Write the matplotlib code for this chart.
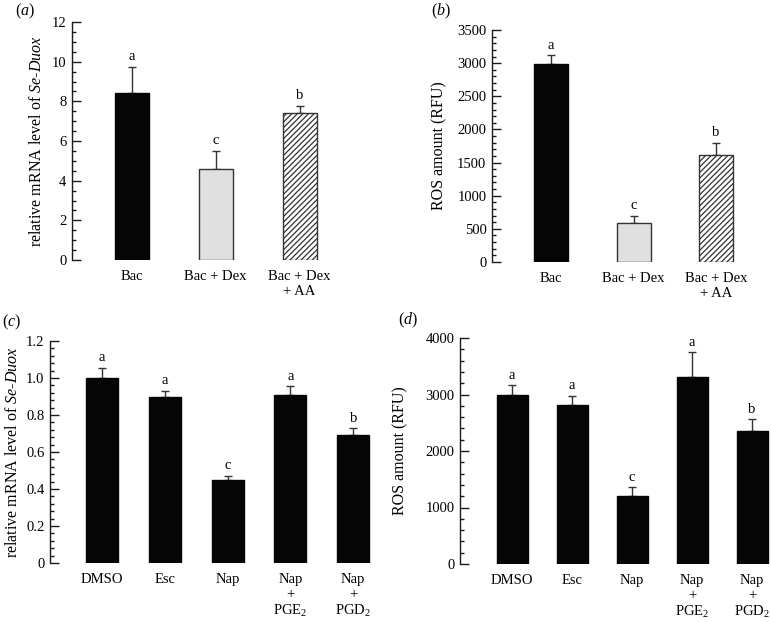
import matplotlib
matplotlib.use("Agg")
import matplotlib.pyplot as plt
from matplotlib.ticker import MultipleLocator, FuncFormatter

plt.rcParams['font.family'] = ['Liberation Serif', 'DejaVu Serif']
plt.rcParams['mathtext.fontset'] = 'custom'
plt.rcParams['mathtext.rm'] = 'Liberation Serif'
plt.rcParams['mathtext.it'] = 'Liberation Serif:italic'
plt.rcParams['mathtext.bf'] = 'Liberation Serif:bold'
plt.rcParams['hatch.linewidth'] = 0.9

# ---- data ----
cats_ab = ['Bac', 'Bac + Dex', 'Bac + Dex\n+ AA']
a_vals = [8.4, 4.57, 7.43]
a_err = [1.35, 0.94, 0.34]
a_letters = ['a', 'c', 'b']

b_vals = [2990, 595, 1610]
b_err = [130, 100, 190]
b_letters = ['a', 'c', 'b']

cats_cd = ['DMSO', 'Esc', 'Nap', 'Nap\n+\nPGE$_2$', 'Nap\n+\nPGD$_2$']
c_vals = [1.0, 0.9, 0.45, 0.91, 0.69]
c_err = [0.055, 0.032, 0.022, 0.045, 0.038]
c_letters = ['a', 'a', 'c', 'a', 'b']

d_vals = [3000, 2820, 1205, 3305, 2360]
d_err = [160, 160, 155, 440, 200]
d_letters = ['a', 'a', 'c', 'a', 'b']

W, H = 771, 622
fig = plt.figure(figsize=(W / 100, H / 100), dpi=100)

FS = 10.5
LFS = 11.5
EDGE = '#1a1a1a'


def make_axes(left, right, top, bottom):
    return fig.add_axes([left / W, 1 - bottom / H, (right - left) / W, (bottom - top) / H])


def style(ax, ymax, major, minor, label, label_right_px, left_px, right_px):
    ax.set_ylim(0, ymax)
    ax.yaxis.set_major_locator(MultipleLocator(major))
    ax.yaxis.set_minor_locator(MultipleLocator(minor))
    for s in ['top', 'right', 'bottom']:
        ax.spines[s].set_visible(False)
    ax.spines['left'].set_color(EDGE)
    ax.spines['left'].set_linewidth(1.0)
    ax.tick_params(axis='y', which='major', direction='in', length=6.5, width=1.0,
                   color=EDGE, labelsize=FS, pad=4)
    ax.tick_params(axis='y', which='minor', direction='in', length=3, width=1.0, color=EDGE)
    ax.tick_params(axis='x', length=0, labelsize=FS, pad=7)
    ax.set_ylabel(label, fontsize=LFS)
    frac = (label_right_px - left_px) / (right_px - left_px)
    ax.yaxis.set_label_coords(frac, 0.5)


def bars(ax, vals, errs, letters, width, colors, hatches, edges, cats):
    x = list(range(len(vals)))
    for i in x:
        ax.bar(i, vals[i], width=width, color=colors[i], edgecolor=edges[i],
               hatch=hatches[i], linewidth=1.0, zorder=2)
        ax.errorbar(i, vals[i], yerr=[[0], [errs[i]]], fmt='none', ecolor='#333333',
                    elinewidth=1.0, capsize=2.9, capthick=1.0, zorder=1)
        ax.annotate(letters[i], (i, vals[i] + errs[i]), xytext=(0, 2.5),
                    textcoords='offset points', ha='center', va='bottom', fontsize=FS)
    ax.set_xticks(x)
    ax.set_xticklabels(cats, linespacing=1.2)


# ---- panel a ----
axa = make_axes(72, 352, 22, 260)
sp = 84
axa.set_xlim(-59.5 / sp, (352 - 72 - 59.5) / sp)
bars(axa, a_vals, a_err, a_letters, 34 / sp,
     ['#050505', '#e0e0e0', 'white'], [None, None, '//////'],
     ['#050505', '#333333', '#333333'], cats_ab)
style(axa, 12, 2, 0.5, r'relative mRNA level of $\mathit{Se}$-$\mathit{Duox}$', 45, 72, 352)

# ---- panel b ----
axb = make_axes(492, 765, 30, 262)
sp = 82.5
axb.set_xlim(-59 / sp, (765 - 492 - 59) / sp)
bars(axb, b_vals, b_err, b_letters, 34 / sp,
     ['#050505', '#e0e0e0', 'white'], [None, None, '//////'],
     ['#050505', '#333333', '#333333'], cats_ab)
style(axb, 3500, 500, 100, 'ROS amount (RFU)', 447, 492, 765)

# ---- panel c ----
axc = make_axes(50, 385, 341, 563)
sp = 62.8
axc.set_xlim(-52 / sp, (385 - 50 - 52) / sp)
bars(axc, c_vals, c_err, c_letters, 32 / sp,
     ['#050505'] * 5, [None] * 5, ['#050505'] * 5, cats_cd)
style(axc, 1.2, 0.2, 0.04, r'relative mRNA level of $\mathit{Se}$-$\mathit{Duox}$', 21, 50, 385)
axc.yaxis.set_major_formatter(FuncFormatter(
    lambda v, p: '0' if abs(v) < 1e-9 else f'{v:.1f}'))

# ---- panel d ----
axd = make_axes(460, 771, 338, 564)
sp = 60
axd.set_xlim(-52 / sp, (771 - 460 - 52) / sp)
bars(axd, d_vals, d_err, d_letters, 31 / sp,
     ['#050505'] * 5, [None] * 5, ['#050505'] * 5, cats_cd)
style(axd, 4000, 1000, 200, 'ROS amount (RFU)', 408, 460, 771)

# ---- panel letters ----
fig.text(15 / W, 1 - 2 / H, r'($\mathit{a}$)', fontsize=LFS, ha='left', va='top')
fig.text(431 / W, 1 - 2 / H, r'($\mathit{b}$)', fontsize=LFS, ha='left', va='top')
fig.text(2 / W, 1 - 322 / H, r'($\mathit{c}$)', fontsize=LFS, ha='left', va='center')
fig.text(398 / W, 1 - 320 / H, r'($\mathit{d}$)', fontsize=LFS, ha='left', va='center')

fig.savefig('out.png', dpi=100)
